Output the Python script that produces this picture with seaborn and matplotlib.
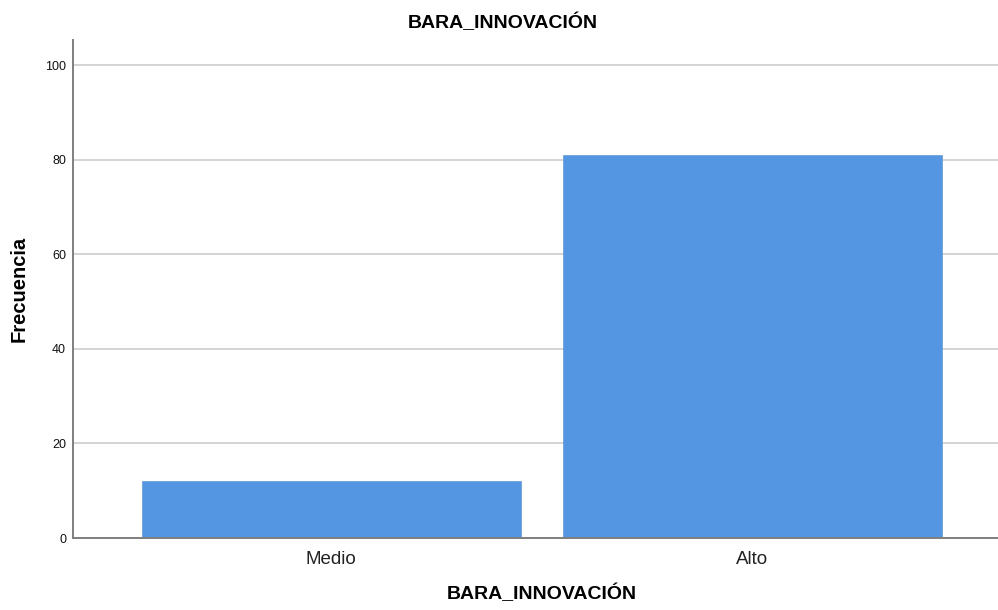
# Bar chart: frecuencia de BARA_INNOVACIÓN (estilo SPSS)
import seaborn as sns
import matplotlib.pyplot as plt
import pandas as pd

sns.set_theme(style="white")
plt.rcParams['font.family'] = ['Liberation Sans', 'DejaVu Sans']

# data
categorias = ["Medio", "Alto"]
frecuencia = [12, 81]
y_ticks = [0, 20, 40, 60, 80, 100]

df = pd.DataFrame({"BARA_INNOVACIÓN": categorias, "Frecuencia": frecuencia})

fig = plt.figure(figsize=(9.98, 6.10), dpi=100)
ax = fig.add_axes([0.0731, 0.118, 0.9269, 0.816])

ax.set_axisbelow(True)
ax.yaxis.grid(True, color="#d4d4d4", linewidth=1.4)

sns.barplot(data=df, x="BARA_INNOVACIÓN", y="Frecuencia", color="#5596e3",
            saturation=1, width=0.9, edgecolor="#6e9fd8", linewidth=0.6, ax=ax)

ax.set_ylim(0, 105.3)
ax.set_xlim(-0.613, 1.584)
ax.set_yticks(y_ticks)

for s in ["top", "right"]:
    ax.spines[s].set_visible(False)
for s in ["left", "bottom"]:
    ax.spines[s].set_color("#7f7f7f")
    ax.spines[s].set_linewidth(1.4)

ax.tick_params(axis="y", length=0, pad=5, labelsize=9, labelcolor="#111111")
ax.tick_params(axis="x", length=0, pad=9, labelsize=13.5, labelcolor="#222222")

ax.set_title("BARA_INNOVACIÓN", fontsize=14, fontweight="bold", color="black",
             pad=9, x=0.465)
ax.set_xlabel("BARA_INNOVACIÓN", fontsize=14, fontweight="bold", color="black",
              labelpad=12, x=0.507)
ax.set_ylabel("Frecuencia", fontsize=14.5, fontweight="bold", color="black",
              labelpad=12)

fig.savefig("out.png", dpi=100)
